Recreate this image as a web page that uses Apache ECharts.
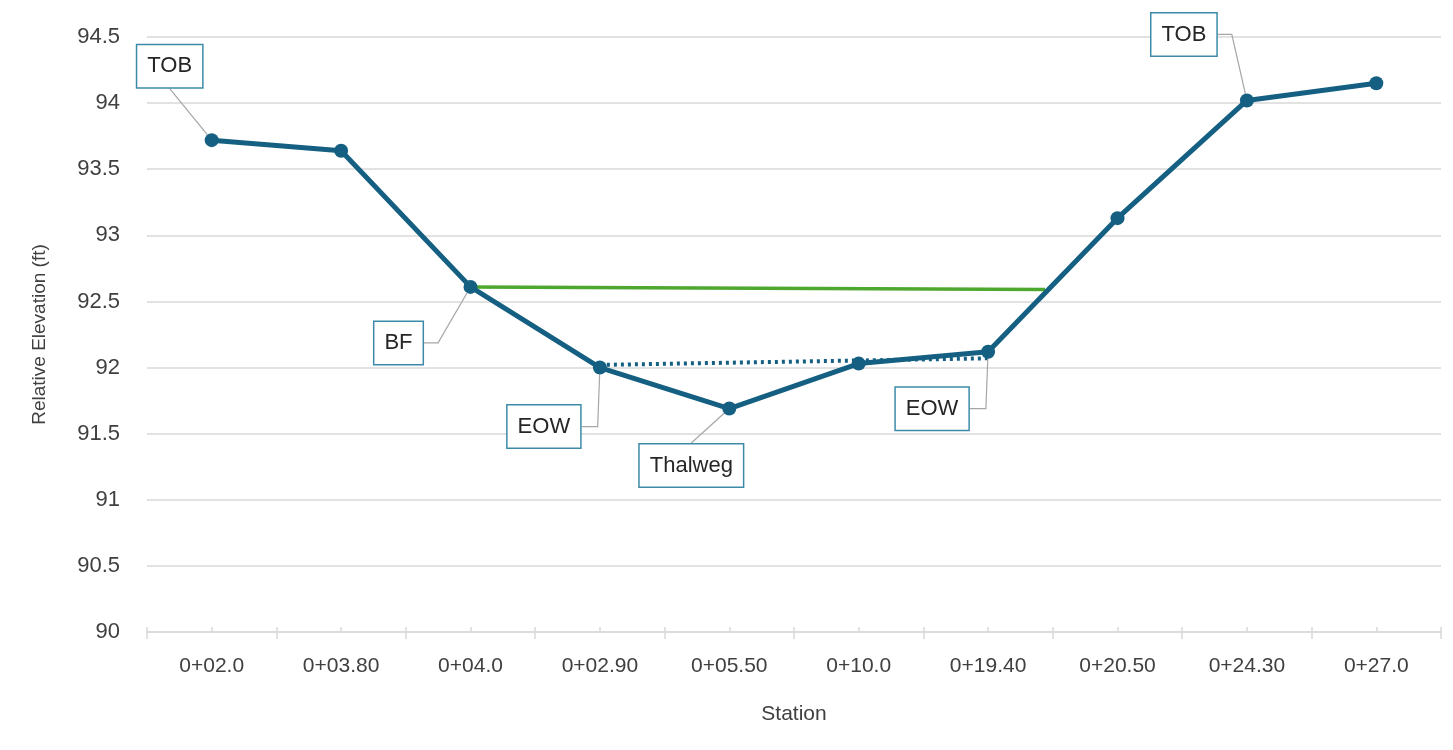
<!DOCTYPE html>
<html>
<head>
<meta charset="utf-8">
<script src="https://cdn.jsdelivr.net/npm/echarts@6/dist/echarts.min.js"></script>
<style>
  html, body { margin: 0; padding: 0; background: #ffffff; }
  #chart { width: 1453px; height: 750px; }
</style>
</head>
<body>
<div id="chart"></div>
<script>
// ---- data ----
const stations = ['0+02.0', '0+03.80', '0+04.0', '0+02.90', '0+05.50', '0+10.0', '0+19.40', '0+20.50', '0+24.30', '0+27.0'];
const elevations = [93.72, 93.64, 92.61, 92.00, 91.69, 92.03, 92.12, 93.13, 94.02, 94.15];
const annotations = ['TOB', '', 'BF', 'EOW', 'Thalweg', '', 'EOW', '', 'TOB', ''];
// bankfull line and water surface (x in station-index units)
const bankfull = [[2, 92.61], [6.44, 92.59]];
const waterSurface = [[3, 92.02], [6, 92.07]];
const yTicks = { min: 90, max: 94.5, step: 0.5 };

// ---- label placement (offset of callout centre from point, px; elbow length) ----
const calloutOffsets = {
  0: [-42, -74, 0],
  2: [-72, 56, 14],
  3: [-56, 59, 16],
  4: [-38, 57, 0],
  6: [-56, 57, 16],
  8: [-63, -66, 14]
};

const mainColor = '#156082';
const gridColor = '#d9d9d9';
const textColor = '#404040';
const font = 'Liberation Sans, Arial, sans-serif';

const mainData = elevations.map((v, i) => {
  if (!annotations[i]) return { value: v, label: { show: false } };
  const off = calloutOffsets[i];
  return {
    value: v,
    label: { show: true },
    labelLine: { show: true, length2: off ? off[2] : 0 }
  };
});

const chart = echarts.init(document.getElementById('chart'), null, { renderer: 'canvas' });
chart.setOption({
  animation: false,
  backgroundColor: '#ffffff',
  grid: { left: 147, right: 12, top: 37, bottom: 118 },
  xAxis: [
    {
      type: 'category',
      data: stations,
      boundaryGap: true,
      axisLine: { show: true, lineStyle: { color: gridColor, width: 1.5 } },
      axisTick: { show: true, length: 7, lineStyle: { color: gridColor, width: 1.5 } },
      axisLabel: { fontSize: 21, color: textColor, margin: 24, fontFamily: font },
      name: 'Station',
      nameLocation: 'middle',
      nameGap: 72,
      nameTextStyle: { fontSize: 21, color: textColor, fontFamily: font },
      splitLine: { show: false }
    },
    {
      type: 'value',
      position: 'bottom',
      min: -0.5,
      max: 9.5,
      interval: 0.5,
      axisLine: { show: false },
      axisTick: { show: true, inside: true, length: 5, lineStyle: { color: gridColor, width: 1.5 } },
      axisLabel: { show: false },
      splitLine: { show: false }
    }
  ],
  yAxis: {
    type: 'value',
    min: yTicks.min,
    max: yTicks.max,
    interval: yTicks.step,
    axisLine: { show: false },
    axisTick: { show: false },
    axisLabel: { fontSize: 22, color: textColor, margin: 27, fontFamily: font },
    splitLine: { show: true, lineStyle: { color: gridColor, width: 1.5 } },
    name: 'Relative Elevation (ft)',
    nameLocation: 'middle',
    nameGap: 98,
    nameTextStyle: { fontSize: 19, color: textColor, fontFamily: font }
  },
  series: [
    {
      name: 'Bankfull',
      type: 'line',
      xAxisIndex: 1,
      data: bankfull,
      symbol: 'none',
      lineStyle: { color: '#4ea72e', width: 3.5 },
      z: 2
    },
    {
      name: 'Water surface',
      type: 'line',
      xAxisIndex: 1,
      data: waterSurface,
      symbol: 'none',
      lineStyle: { color: mainColor, width: 4, type: [3, 4] },
      z: 2
    },
    {
      name: 'Elevation',
      type: 'line',
      xAxisIndex: 0,
      data: mainData,
      symbol: 'circle',
      symbolSize: 14,
      lineStyle: { color: mainColor, width: 5 },
      itemStyle: { color: mainColor },
      z: 3,
      label: {
        position: 'inside',
        formatter: (p) => annotations[p.dataIndex],
        backgroundColor: '#ffffff',
        borderColor: '#3d8aa8',
        borderWidth: 1.5,
        padding: [11, 10, 9, 10],
        fontSize: 22,
        color: '#262626',
        fontFamily: font
      },
      labelLine: { show: true, length2: 14, lineStyle: { color: '#a6a6a6', width: 1.2 } },
      labelLayout: (params) => {
        const off = calloutOffsets[params.dataIndex];
        if (!off) return {};
        return { dx: off[0], dy: off[1], hideOverlap: false };
      }
    }
  ]
});
</script>
</body>
</html>
